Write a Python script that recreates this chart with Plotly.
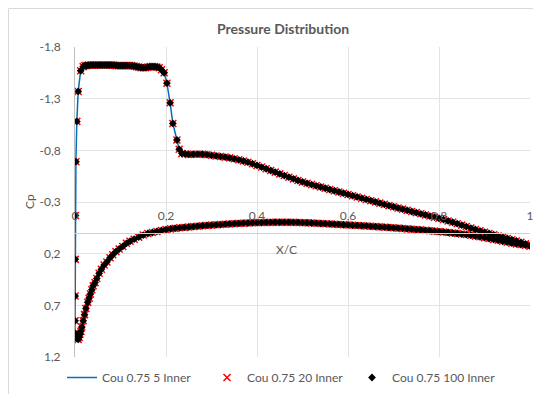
import plotly.graph_objects as go

# ---------------- data ----------------
# upper surface (leading edge -> trailing edge)
x_upper = [0.0000, 0.0001, 0.0003, 0.0006, 0.0010, 0.0020, 0.0040, 0.0070, 0.0125,
           0.018, 0.022, 0.026, 0.030, 0.035, 0.040, 0.045, 0.050, 0.055, 0.060,
           0.065, 0.070, 0.075, 0.080, 0.085, 0.090, 0.095, 0.100, 0.105, 0.110,
           0.115, 0.120, 0.125, 0.130, 0.135, 0.140, 0.145, 0.150, 0.155, 0.160,
           0.165, 0.170, 0.175, 0.180, 0.185, 0.190, 0.196, 0.202, 0.209, 0.215,
           0.224, 0.229, 0.235, 0.242,
           0.25, 0.26, 0.27, 0.28, 0.29, 0.30, 0.31, 0.32, 0.33, 0.34, 0.35, 0.36,
           0.37, 0.38, 0.39, 0.40, 0.41, 0.42, 0.43, 0.44, 0.45, 0.46, 0.47, 0.48,
           0.49, 0.50, 0.51, 0.52, 0.53, 0.54, 0.55, 0.56, 0.57, 0.58, 0.59, 0.60,
           0.61, 0.62, 0.63, 0.64, 0.65, 0.66, 0.67, 0.68, 0.69, 0.70, 0.71, 0.72,
           0.73, 0.74, 0.75, 0.76, 0.77, 0.78, 0.79, 0.80, 0.81, 0.82, 0.83, 0.84,
           0.85, 0.86, 0.87, 0.88, 0.89, 0.90, 0.91, 0.92, 0.93, 0.94, 0.95, 0.96,
           0.97, 0.98, 0.99, 1.00]
cp_upper = [0.97, 0.85, 0.61, 0.255, -0.17, -0.69, -1.08, -1.37, -1.57,
            -1.61, -1.62, -1.62, -1.625, -1.625, -1.625, -1.625, -1.625, -1.625, -1.625,
            -1.625, -1.625, -1.625, -1.625, -1.625, -1.62, -1.62, -1.62, -1.62, -1.62,
            -1.62, -1.62, -1.62, -1.615, -1.61, -1.605, -1.60, -1.60, -1.60, -1.605,
            -1.61, -1.61, -1.61, -1.605, -1.60, -1.58, -1.55, -1.45, -1.26, -1.06,
            -0.90, -0.81, -0.77, -0.765,
            -0.760, -0.762, -0.763, -0.762, -0.758, -0.752, -0.746, -0.740, -0.734, -0.727, -0.718, -0.708,
            -0.697, -0.685, -0.670, -0.654, -0.638, -0.622, -0.605, -0.589, -0.572, -0.556, -0.540, -0.524,
            -0.508, -0.494, -0.481, -0.469, -0.457, -0.445, -0.433, -0.421, -0.409, -0.397, -0.385, -0.373,
            -0.361, -0.349, -0.337, -0.325, -0.313, -0.301, -0.289, -0.277, -0.265, -0.254, -0.242, -0.231,
            -0.219, -0.208, -0.197, -0.186, -0.175, -0.164, -0.153, -0.142, -0.130, -0.117, -0.104, -0.090,
            -0.076, -0.062, -0.048, -0.034, -0.021, -0.008, 0.005, 0.017, 0.029, 0.041, 0.053, 0.065,
            0.077, 0.090, 0.105, 0.125]

# lower surface (leading edge -> trailing edge)
x_lower = [0.003, 0.005, 0.007, 0.009, 0.011, 0.013, 0.015, 0.018, 0.021, 0.024,
           0.028, 0.031, 0.034, 0.037, 0.040, 0.044, 0.048, 0.053, 0.058, 0.064,
           0.070, 0.077, 0.083, 0.090, 0.097, 0.105, 0.113, 0.121, 0.130, 0.140,
           0.150, 0.160, 0.170, 0.180, 0.190, 0.200, 0.210,
           0.22, 0.23, 0.24, 0.25, 0.26, 0.27, 0.28, 0.29, 0.30, 0.31, 0.32, 0.33,
           0.34, 0.35, 0.36, 0.37, 0.38, 0.39, 0.40, 0.41, 0.42, 0.43, 0.44, 0.45,
           0.46, 0.47, 0.48, 0.49, 0.50, 0.51, 0.52, 0.53, 0.54, 0.55, 0.56, 0.57,
           0.58, 0.59, 0.60, 0.61, 0.62, 0.63, 0.64, 0.65, 0.66, 0.67, 0.68, 0.69,
           0.70, 0.71, 0.72, 0.73, 0.74, 0.75, 0.76, 0.77, 0.78, 0.79, 0.80, 0.81,
           0.82, 0.83, 0.84, 0.85, 0.86, 0.87, 0.88, 0.89, 0.90, 0.91, 0.92, 0.93,
           0.94, 0.95, 0.96, 0.97, 0.98, 0.99, 1.00]
cp_lower = [0.99, 1.02, 1.03, 1.01, 0.98, 0.95, 0.91, 0.85, 0.79, 0.73,
            0.67, 0.63, 0.59, 0.55, 0.51, 0.48, 0.44, 0.39, 0.35, 0.31,
            0.28, 0.24, 0.21, 0.18, 0.155, 0.13, 0.10, 0.08, 0.06, 0.04,
            0.02, 0.005, -0.005, -0.015, -0.025, -0.033, -0.040,
            -0.045, -0.050, -0.054, -0.058, -0.062, -0.066, -0.070, -0.073, -0.076, -0.079, -0.082, -0.085,
            -0.088, -0.090, -0.093, -0.095, -0.097, -0.099, -0.100, -0.101, -0.102, -0.103, -0.104, -0.104,
            -0.104, -0.104, -0.103, -0.102, -0.100, -0.099, -0.097, -0.095, -0.092, -0.090, -0.088, -0.085,
            -0.083, -0.080, -0.078, -0.075, -0.073, -0.070, -0.068, -0.065, -0.062, -0.059, -0.056, -0.053,
            -0.050, -0.047, -0.044, -0.040, -0.037, -0.033, -0.030, -0.026, -0.022, -0.018, -0.014, -0.010,
            -0.005, 0.000, 0.005, 0.010, 0.015, 0.022, 0.030, 0.037, 0.045, 0.053, 0.062, 0.071,
            0.080, 0.089, 0.098, 0.105, 0.112, 0.118, 0.125]

series_names = ["Cou 0.75 5 Inner", "Cou 0.75 20 Inner", "Cou 0.75 100 Inner"]

x_ticks = [0, 0.2, 0.4, 0.6, 0.8, 1.0]
x_tick_labels = ["0", "0,2", "0,4", "0,6", "0,8", "1"]
y_ticks = [-1.8, -1.3, -0.8, -0.3, 0.2, 0.7, 1.2]
y_tick_labels = ["-1,8", "-1,3", "-0,8", "-0,3", "0,2", "0,7", "1,2"]

# full contour: trailing edge upper -> leading edge -> trailing edge lower
x_all = x_upper[::-1] + x_lower
cp_all = cp_upper[::-1] + cp_lower

FONT = "Lato"
GRAY = "#595959"

# the page body has an 8 px margin: figure is 533 x 386, placed at (8, 8)
OFF = 8
FIG_W, FIG_H = 541 - OFF, 394 - OFF
PL, PR, PT, PB = 75, 530, 47, 357          # plot area in page pixels
PW, PH = PR - PL, PB - PT


def px(xp):
    return (xp - PL) / PW


def py(yp):
    return (PB - yp) / PH


fig = go.Figure()
fig.add_trace(go.Scatter(x=x_all, y=cp_all, mode="lines", name=series_names[0],
                         line=dict(color="#0070C0", width=1.5)))
fig.add_trace(go.Scatter(x=x_all, y=cp_all, mode="markers", name=series_names[1],
                         marker=dict(symbol="x-thin", size=7, line=dict(color="#FF0000", width=1.5),
                                     color="#FF0000")))
fig.add_trace(go.Scatter(x=x_all, y=cp_all, mode="markers", name=series_names[2],
                         marker=dict(symbol="diamond", size=6, color="#000000")))

fig.update_layout(
    width=FIG_W, height=FIG_H,
    margin=dict(l=PL - OFF, r=541 - PR, t=PT - OFF, b=394 - PB, autoexpand=False),
    paper_bgcolor="white", plot_bgcolor="white",
    font=dict(family=FONT, size=12, color=GRAY),
    showlegend=True,
    legend=dict(orientation="h", xref="container", yref="container",
                x=(62 - OFF) / FIG_W, y=1 - (363 - OFF) / FIG_H, xanchor="left", yanchor="top",
                font=dict(family=FONT, size=12, color=GRAY),
                itemwidth=30, entrywidth=100, bgcolor="rgba(0,0,0,0)"),
    xaxis=dict(range=[0, 1], tickvals=x_ticks, ticktext=x_tick_labels,
               anchor="free", position=0.4, side="top", automargin=False,
               showgrid=True, gridcolor="#E3E3E3", gridwidth=1,
               showline=True, linecolor="#D0D0D0", linewidth=1,
               zeroline=False, ticks="", ticklabelstandoff=8,
               tickfont=dict(family=FONT, size=12, color=GRAY)),
    yaxis=dict(range=[1.2, -1.8], tickvals=y_ticks, ticktext=y_tick_labels, automargin=False,
               showgrid=True, gridcolor="#E3E3E3", gridwidth=1,
               showline=True, linecolor="#BFBFBF", linewidth=1, layer="below traces",
               zeroline=False, ticks="", ticklabelstandoff=11,
               tickfont=dict(family=FONT, size=12, color=GRAY)),
    annotations=[
        dict(text="<b>Pressure Distribution</b>", xref="paper", yref="paper",
             x=px(283), y=py(28), xanchor="center", yanchor="middle",
             showarrow=False, font=dict(family=FONT, size=14, color=GRAY)),
        dict(text="X/C", xref="paper", yref="paper",
             x=px(286), y=py(250), xanchor="center", yanchor="middle",
             showarrow=False, font=dict(family=FONT, size=12, color=GRAY)),
        dict(text="Cp", xref="paper", yref="paper", textangle=-90,
             x=px(29), y=0.5, xanchor="center", yanchor="middle",
             showarrow=False, font=dict(family=FONT, size=12, color=GRAY)),
    ],
    shapes=[
        dict(type="line", xref="paper", yref="paper",
             x0=px(8.5), x1=px(8.5), y0=py(8.5), y1=py(400),
             line=dict(color="#D9D9D9", width=1)),
        dict(type="line", xref="paper", yref="paper",
             x0=px(8.5), x1=px(545), y0=py(8.5), y1=py(8.5),
             line=dict(color="#D9D9D9", width=1)),
    ],
)

fig.write_html("out.html")
